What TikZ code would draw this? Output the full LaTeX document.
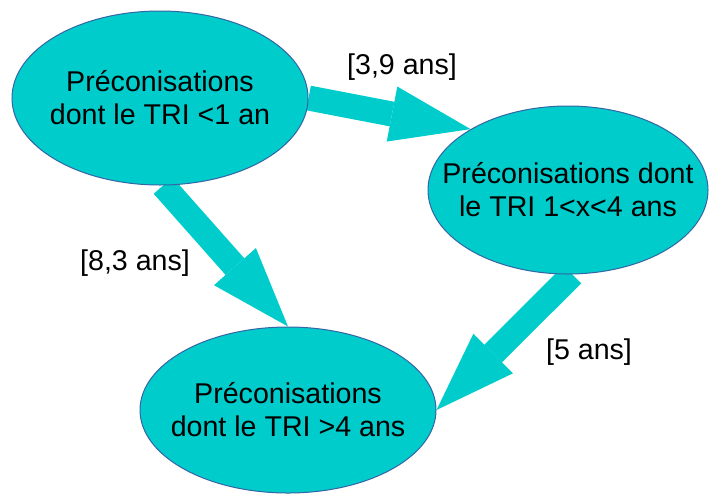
\documentclass[tikz,border=0pt]{standalone}
\usepackage{fontspec}
\setmainfont{Liberation Sans}
\usetikzlibrary{arrows.meta,shapes.geometric,backgrounds}
\definecolor{tricyan}{RGB}{0,204,204}
\definecolor{triedge}{RGB}{52,101,164}
\tikzset{
    >={Triangle[length=40pt,width=28pt,line width=0pt]},
    bubble/.style={ellipse,draw=triedge,line width=0.5pt,fill=tricyan,inner sep=0pt},
    flow/.style={->,draw=tricyan,line width=12.5pt},
    tag/.style={font=\fontsize{14.3}{16.5}\selectfont,align=center}
}
\begin{document}
\begin{tikzpicture}[x=0.5pt,y=-0.5pt]
    \useasboundingbox (0,0) rectangle (715,493);
    \node[bubble,minimum width=148pt,minimum height=87pt,
          label={[tag]center:Préconisations\\dont le TRI <1 an}] (a) at (160,98) {};
    \node[bubble,minimum width=140pt,minimum height=84pt,
          label={[tag]center:Préconisations dont\\le TRI 1<x<4 ans}] (b) at (568,190) {};
    \node[bubble,minimum width=148pt,minimum height=83pt,
          label={[tag]center:Préconisations\\dont le TRI >4 ans}] (c) at (288,410) {};
    \begin{scope}[on background layer]
        \draw[flow] (a.east) -- (b.148);
        \draw[flow] (a.-88) -- (c.north);
        \draw[flow] (b.-87) -- (c.east);
    \end{scope}
    \node[tag] (t1) at (402,67) {[3,9 ans]};
    \node[tag] (t2) at (135,263) {[8,3 ans]};
    \node[tag] (t3) at (589,352) {[5 ans]};
\end{tikzpicture}
\end{document}
